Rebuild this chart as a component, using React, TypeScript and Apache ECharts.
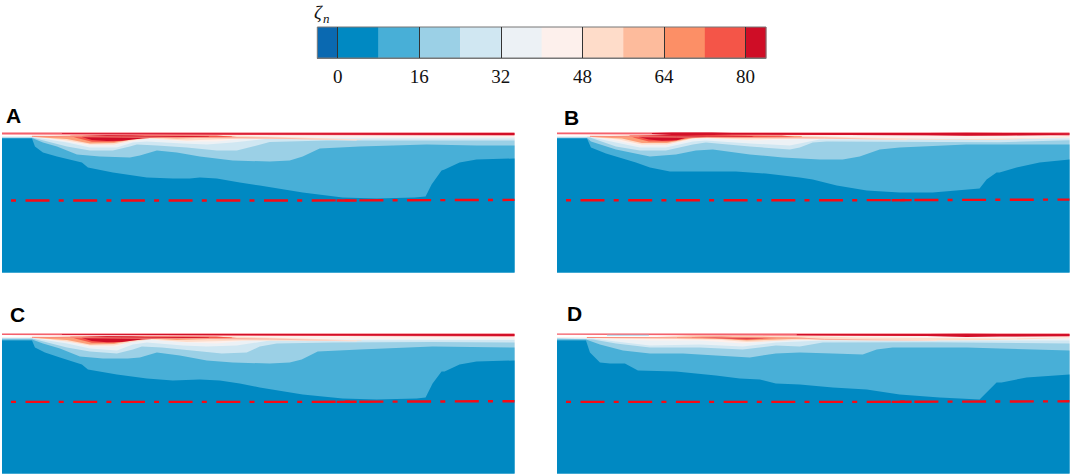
import React, { useEffect, useRef } from "react";
import * as echarts from "echarts";

// ---- colour scale ----
const scaleEdges = [-4, 0, 8, 16, 24, 32, 40, 48, 56, 64, 72, 80, 84];
const scaleColors = ["#0a69b1", "#0089c2", "#48afd7", "#9bd0e6", "#d0e7f2", "#ecf1f5", "#fdf0ec", "#fedcc9", "#fdbb9c", "#fc8f66", "#f45548", "#cf0d26"];
const scaleTicks = [0, 16, 32, 48, 64, 80];

// ---- panel extents (distance along, depth down) ----
const spanX = 513;
const spanY = 140;

// ---- contour lines, each pair is [distance, depth] ----
const A_c5 = [[0,3.8],[30,3.8],[38,4],[65,9],[88,13],[111,13],[130,9],[145,6],[185,9],[215,9],[245,6],[268,5],[513,4.5]];
const A_c4 = [[0,4.4],[30,4.4],[65,10],[88,15],[115,15],[131,10],[145,9],[181,11],[205,12],[231,10],[268,6],[513,6]];
const A_c3 = [[0,5],[30,5],[65,14],[88,18],[111,18],[128,14],[135,12],[155,13],[185,15],[215,18],[235,18],[251,14],[268,9.5],[325,8],[425,8],[513,8]];
const A_c2 = [[0,5.5],[30,5.5],[41,10],[55,14],[75,22],[98,24],[128,25],[138,23],[155,18],[175,20],[198,24],[231,28],[268,29],[288,28],[301,24],[318,16],[358,14],[425,12],[475,13],[513,13]];
const A_c1 = [[0,6],[30,6],[33,14],[41,20],[55,24],[80,30],[86,35],[111,40],[145,45],[171,46],[188,46],[198,45],[215,46],[238,50],[258,53],[301,60],[341,65],[375,66],[413,65],[424,64],[430,52],[440,38],[443,37],[458,30],[475,27],[513,26]];

const B_c5 = [[0,3.8],[30,3.8],[38,4.5],[59,8],[83,13],[109,13],[136,7],[149,6],[193,8],[233,7],[263,5],[400,5.5],[440,8],[470,7],[513,4.5]];
const B_c4 = [[0,4.4],[33,4.5],[59,10],[83,15],[109,15],[136,9],[149,8],[193,11],[233,13],[243,11],[263,7],[513,6]];
const B_c3 = [[0,5],[33,5],[59,14],[83,18],[109,18],[136,12],[149,10],[193,14],[233,17],[243,15],[256,10],[270,9],[443,9.7],[513,7.7]];
const B_c2 = [[0,5.5],[30,5.5],[34,9],[59,17],[93,24],[119,22],[139,18],[156,17],[193,22],[226,25],[263,27],[286,27],[303,24],[323,17],[343,15],[410,12],[513,12]];
const B_c1 = [[0,6],[30,6],[34,15],[49,21],[79,30],[93,35],[113,39],[149,39],[179,39],[209,41],[243,45],[256,47],[280,53],[310,58],[343,60],[376,60],[423,56],[430,47],[440,40],[443,40],[460,35],[483,30],[513,27]];

const C_c5 = [[0,4],[30,4],[65,8],[88,13],[115,13],[130,8],[145,6],[185,9],[215,10],[245,7],[268,6],[513,5]];
const C_c4 = [[0,4.5],[30,4.5],[65,10],[88,15],[115,17],[131,11],[145,9],[181,12],[205,13],[235,12],[268,7],[513,6.5]];
const C_c3 = [[0,5],[30,5],[65,14],[88,18],[115,20],[131,16],[140,13],[160,14],[190,17],[220,20],[245,19],[258,13],[275,10],[330,9],[430,8.5],[513,9]];
const C_c2 = [[0,6],[30,6],[41,10],[58,15],[78,23],[101,25],[126,25],[138,24],[155,19],[178,22],[205,27],[231,29],[268,30],[288,29],[300,26],[316,18],[358,16],[431,13],[513,14]];
const C_c1 = [[0,7],[30,7],[33,14],[43,19],[58,24],[80,31],[86,36],[115,41],[145,45],[171,47],[198,46],[218,47],[238,50],[258,54],[301,61],[341,65],[375,66],[415,65],[424,64],[431,50],[440,38],[443,38],[458,31],[475,28],[513,27]];

const D_c5 = [[0,4],[36,4.5],[59,6],[93,7],[143,7],[186,10],[219,7],[266,5],[440,6],[513,5]];
const D_c4 = [[0,4.5],[36,5],[59,8],[93,12],[143,11],[186,13],[219,9],[266,7],[513,7]];
const D_c3 = [[0,5],[36,6],[59,10],[93,14],[143,14],[186,16],[219,12],[243,13],[266,9],[376,8.7],[513,10]];
const D_c2 = [[0,6],[29,6],[43,11],[66,17],[93,20],[126,20],[159,22],[193,24],[219,20],[243,19],[276,20],[306,21],[320,16],[336,14],[410,14],[443,15],[513,17]];
const D_c1 = [[0,7],[29,7],[33,19],[43,29],[53,30],[68,30],[81,37],[119,38],[159,42],[183,45],[203,46],[219,50],[243,51],[276,54],[310,56],[343,61],[383,64],[423,66],[440,49],[445,49],[470,44],[513,41]];

// ---- warm patches near the surface: closed outlines ----
const A_halo = [[28,3.5],[80,3],[140,3],[230,3],[300,5],[360,7],[360,7.4],[240,6],[185,8],[148,6],[130,8],[112,12],[88,12],[65,8],[40,5],[28,4]];
const A_orange = [[32,3.8],[75,3],[140,3],[230,3.5],[230,4.6],[175,6],[148,5],[130,7],[112,10.5],[88,11],[65,6.5],[32,4.6]];
const A_red = [[68,3.2],[140,2.8],[215,3],[235,4.4],[175,5.2],[148,4.8],[130,6.4],[112,9.2],[90,9.2],[75,5.5]];
const A_core = [[80,3.5],[105,2.8],[130,3],[143,3.6],[180,3.4],[207,4],[207,4.4],[160,4.8],[140,6],[120,8.2],[105,8.6],[90,7.4],[80,4.4]];
const A_ridge = [[30,3.8],[120,4.5],[268,5.5],[355,7.5]];
const A_gap = [[0,1.8],[230,2.5],[140,3],[60,3],[0,3.6]];
const A_skin = [[0,0],[513,0],[513,3],[0,2]];
const A_skinCore = [[60,0.8],[513,0.5],[513,2.5],[60,1.5]];

const B_halo = [[30,3.5],[90,3],[150,3],[240,3],[300,5],[400,6.8],[470,6],[513,4],[513,4.6],[440,7.6],[380,7.2],[240,6],[190,7],[150,5.5],[136,6],[110,12],[85,12],[62,7],[40,5],[30,4]];
const B_orange = [[35,3.8],[85,3],[150,3],[245,3.5],[245,4.6],[190,5.4],[150,4.8],[135,5.8],[110,10.5],[85,10.5],[65,6],[35,4.6]];
const B_red = [[72,3],[150,2.6],[225,3],[238,4.2],[190,4.8],[150,4.4],[132,5.4],[112,9],[92,9],[78,5.4]];
const B_core = [[82,3.4],[110,2.8],[130,2.8],[150,3.2],[195,3.4],[197,4],[150,4.2],[128,5.4],[120,7.8],[105,8.2],[92,7],[82,4.4]];
const B_ridge = [[33,3.8],[120,4.5],[268,5.5],[350,7.2]];
const B_gap = [[0,1.6],[230,2.4],[140,3],[60,3],[0,3.6]];
const B_skin = [[0,0],[513,0],[513,3],[0,1.8]];
const B_skinCore = [[95,0.5],[115,0],[155,0],[175,0.5],[370,0.5],[410,0.2],[450,0.5],[513,0.7],[513,2.3],[450,3],[410,3.3],[370,2.8],[175,2.2],[155,2.4],[115,2.4],[95,1.4]];

const C_halo = [[28,3.5],[80,3],[140,3],[230,3],[300,5],[360,7],[360,7.4],[240,7],[185,8.5],[148,6],[130,8.5],[112,12],[88,12],[65,8],[40,5],[28,4]];
const C_orange = [[32,3.8],[75,3],[140,3],[230,3.5],[230,4.8],[175,6.4],[148,5],[130,7],[112,10.5],[88,11],[65,6.5],[32,4.6]];
const C_red = [[68,3.2],[140,2.8],[215,3],[235,4.4],[175,5.4],[148,4.8],[130,6.4],[112,9.2],[90,9.2],[75,5.5]];
const C_core = [[80,3.5],[105,2.8],[130,3],[143,3.6],[180,3.4],[207,4],[207,4.4],[160,5],[140,6],[120,8.4],[105,8.8],[90,7.4],[80,4.4]];
const C_ridge = [[30,3.8],[120,4.5],[268,5.5],[355,7.5]];
const C_gap = [[0,1.6],[230,2.5],[140,3],[60,3],[0,3.6]];
const C_skin = [[0,0],[513,0],[513,3],[0,1.6]];
const C_skinCore = [[60,0.6],[513,0.5],[513,2.6],[60,1.3]];

const D_halo = [[29,3.8],[100,3.6],[135,1.5],[230,2],[300,4],[440,5],[513,4],[513,4.6],[440,6.4],[360,7],[240,6.5],[190,8.6],[165,6.5],[120,5.5],[60,5],[29,4.2]];
const D_orange = [[120,3.4],[145,3],[200,3.2],[250,4.4],[250,5],[190,7],[165,5.4],[120,4.4]];
const D_red = [[135,3.6],[165,3.2],[200,4],[220,4.4],[190,6.2],[165,5],[135,4.2]];
const D_core = [[143,3.8],[158,3.6],[176,4.4],[198,4.6],[212,4.8],[190,5.6],[158,4.4]];
const D_ridge = [[30,4],[120,4.3],[240,4.4],[268,5.8],[380,7]];
const D_gap = [[0,1.4],[50,1.6],[230,2.2],[140,3],[60,3.2],[0,3.6]];
const D_sheen = [[50,1.2],[92,1.3],[92,2.2],[50,2.2]];
const D_skin = [[0,0],[513,0],[513,3],[0,1.2]];
const D_skinCore = [[240,0.6],[370,0.5],[410,0.2],[443,0.5],[513,0.6],[513,2.6],[443,3],[410,3.4],[370,2.6],[240,1.8]];

// ---- dash-dot reference line ----
const A_axisLine = [[9,68],[300,68],[513,67.4]];
const B_axisLine = [[9,67.7],[300,67.7],[513,67.1]];
const C_axisLine = [[9,68.4],[300,68.4],[513,67.7]];
const D_axisLine = [[9,68.4],[300,68.4],[513,67.8]];
const A_joint = [[335,68],[355,68]];
const B_joint = [[335,67.7],[355,67.6]];
const C_joint = [[335,68.4],[355,68.3]];
const D_joint = [[335,68.4],[355,68.3]];

const panels = [
  { grid: [2, 132.5], curves: [A_c5, A_c4, A_c3, A_c2, A_c1], warm: [A_halo, A_orange, A_red, A_core], ridge: A_ridge, gap: A_gap, skin: A_skin, skinCore: A_skinCore, axisLine: A_axisLine, joint: A_joint, sheen: null },
  { grid: [557, 132.5], curves: [B_c5, B_c4, B_c3, B_c2, B_c1], warm: [B_halo, B_orange, B_red, B_core], ridge: B_ridge, gap: B_gap, skin: B_skin, skinCore: B_skinCore, axisLine: B_axisLine, joint: B_joint, sheen: null },
  { grid: [2, 333.5], curves: [C_c5, C_c4, C_c3, C_c2, C_c1], warm: [C_halo, C_orange, C_red, C_core], ridge: C_ridge, gap: C_gap, skin: C_skin, skinCore: C_skinCore, axisLine: C_axisLine, joint: C_joint, sheen: null },
  { grid: [557, 333.5], curves: [D_c5, D_c4, D_c3, D_c2, D_c1], warm: [D_halo, D_orange, D_red, D_core], ridge: D_ridge, gap: D_gap, skin: D_skin, skinCore: D_skinCore, axisLine: D_axisLine, joint: D_joint, sheen: D_sheen },
];

const bandColors = scaleColors.slice(1, 6).reverse();
const warmColors = ["#fedcc9", "#fc9f78", "#f45548", "#cf0d26"];
const ridgeFade = {
  type: "linear",
  x: 0,
  y: 0,
  x2: 1,
  y2: 0,
  colorStops: [
    { offset: 0, color: "#f88a78" },
    { offset: 0.65, color: "#f9a08f" },
    { offset: 1, color: "#fde0d6" },
  ],
};

function polygonSeries(axis: number, pts: number[][], fill: string, z: number) {
  return {
    type: "custom",
    xAxisIndex: axis,
    yAxisIndex: axis,
    coordinateSystem: "cartesian2d",
    silent: true,
    z,
    data: pts,
    encode: { x: 0, y: 1 },
    renderItem: (params: any, api: any) => {
      if (params.dataIndex !== 0) return null;
      return {
        type: "polygon",
        shape: { points: pts.map((p) => api.coord(p)) },
        style: { fill },
      };
    },
  };
}

function lineSeries(axis: number, pts: number[][], color: any, width: number, type: any, z: number) {
  return {
    type: "line",
    xAxisIndex: axis,
    yAxisIndex: axis,
    data: pts,
    symbol: "none",
    silent: true,
    z,
    lineStyle: { color, width, type, cap: "butt" },
  };
}

function buildOption() {
  const grid: any[] = [];
  const xAxis: any[] = [];
  const yAxis: any[] = [];
  const series: any[] = [];

  panels.forEach((p, i) => {
    grid.push({ left: p.grid[0], top: p.grid[1], width: 512.5, height: spanY });
    xAxis.push({ type: "value", gridIndex: i, min: 0, max: spanX, show: false });
    yAxis.push({ type: "value", gridIndex: i, min: 0, max: spanY, inverse: true, show: false });
    series.push(polygonSeries(i, [[0, 0], [spanX, 0], [spanX, spanY], [0, spanY]], scaleColors[6], 2));
    p.curves.forEach((c, k) => {
      series.push(polygonSeries(i, [...c, [spanX, spanY], [0, spanY]], bandColors[k], 3 + k));
    });
    series.push(polygonSeries(i, p.gap, "#ffffff", 9));
    p.warm.forEach((w, k) => series.push(polygonSeries(i, w, warmColors[k], 10 + k)));
    series.push(lineSeries(i, p.ridge, ridgeFade, 1, "solid", 14));
    series.push(polygonSeries(i, p.skin, "#f4606c", 15));
    series.push(polygonSeries(i, p.skinCore, "#d20f28", 16));
    if (p.sheen) series.push(polygonSeries(i, p.sheen, "#a8d6ea", 17));
    series.push(lineSeries(i, p.axisLine, "#f80a14", 2.4, [5, 9.5, 24, 9.2], 18));
    series.push(lineSeries(i, p.joint, "#f80a14", 2.4, "solid", 18));
  });

  // colour bar
  const bar = panels.length;
  grid.push({ left: 317.3, top: 27, width: 448.7, height: 31 });
  xAxis.push({
    type: "value",
    gridIndex: bar,
    min: scaleEdges[0],
    max: scaleEdges[scaleEdges.length - 1],
    z: 10,
    splitLine: { show: false },
    axisLine: { show: true, lineStyle: { color: "#777", width: 1 } },
    axisTick: { show: true, inside: true, length: 31, customValues: scaleTicks, lineStyle: { color: "#333", width: 1 } },
    axisLabel: { show: true, customValues: scaleTicks, margin: 8.5, fontFamily: "Liberation Serif", fontSize: 19, color: "#111" },
  });
  yAxis.push({ type: "value", gridIndex: bar, min: 0, max: 1, show: false });
  const cells = scaleColors.map((c, i) => [scaleEdges[i], scaleEdges[i + 1], c]);
  series.push({
    type: "custom",
    xAxisIndex: bar,
    yAxisIndex: bar,
    silent: true,
    z: 2,
    data: cells.map((c) => [c[0], c[1]]),
    encode: { x: [0, 1] },
    renderItem: (params: any, api: any) => {
      const a = api.coord([api.value(0), 1]);
      const b = api.coord([api.value(1), 0]);
      return {
        type: "rect",
        shape: { x: a[0], y: a[1], width: b[0] - a[0] + 0.3, height: b[1] - a[1] },
        style: { fill: scaleColors[params.dataIndex] },
      };
    },
  });
  series.push({
    type: "custom",
    xAxisIndex: bar,
    yAxisIndex: bar,
    silent: true,
    z: 3,
    data: [[scaleEdges[0], scaleEdges[scaleEdges.length - 1]]],
    encode: { x: [0, 1] },
    renderItem: (_: any, api: any) => {
      const a = api.coord([api.value(0), 1]);
      const b = api.coord([api.value(1), 0]);
      return {
        type: "rect",
        shape: { x: a[0], y: a[1], width: b[0] - a[0], height: b[1] - a[1] },
        style: { fill: "none", stroke: "#777", lineWidth: 1 },
      };
    },
  });

  const letter = (text: string, x: number, y: number) => ({
    type: "text",
    x,
    y,
    style: { text, fill: "#000", font: "bold 21px 'Liberation Sans'", textVerticalAlign: "top" },
    silent: true,
  });

  return {
    animation: false,
    backgroundColor: "#ffffff",
    grid,
    xAxis,
    yAxis,
    series,
    graphic: [
      letter("A", 6, 105),
      letter("B", 564, 107),
      letter("C", 10, 304),
      letter("D", 567, 303),
      { type: "text", x: 314, y: 3, silent: true, style: { text: "ζ", fill: "#111", font: "italic 19px 'Liberation Serif'" } },
      { type: "text", x: 323, y: 12, silent: true, style: { text: "n", fill: "#111", font: "italic 13px 'Liberation Serif'" } },
    ],
  };
}

export default function App() {
  const ref = useRef<HTMLDivElement>(null);
  useEffect(() => {
    document.body.style.margin = "0";
    const chart = echarts.init(ref.current as HTMLDivElement, undefined, { renderer: "svg" });
    chart.setOption(buildOption() as any);
    return () => chart.dispose();
  }, []);
  return <div ref={ref} style={{ width: 1072, height: 475 }} />;
}
